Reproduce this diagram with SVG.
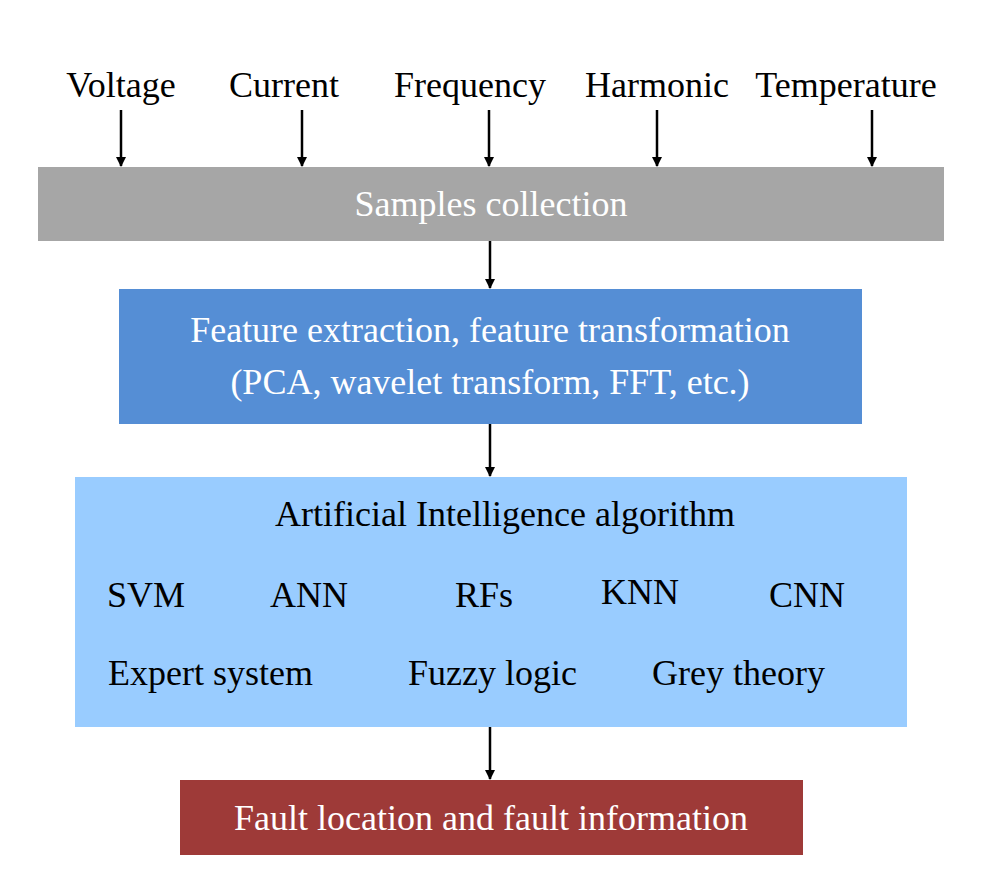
<svg xmlns="http://www.w3.org/2000/svg" width="999" height="880" viewBox="0 0 999 880">
<defs>
<marker id="ah" markerWidth="10" markerHeight="10" refX="9" refY="5" orient="auto" markerUnits="userSpaceOnUse" viewBox="0 0 10 10"><path d="M0,0 L10,5 L0,10 Z" fill="#000"/></marker>
<style>
text{font-family:"Liberation Serif","Times New Roman",serif;font-size:36px;fill:#000}
.w{fill:#fff}
.c{text-anchor:middle}
.a{stroke:#000;stroke-width:2.5;fill:none;marker-end:url(#ah)}
</style>
</defs>
<rect width="999" height="880" fill="#fff"/>
<g id="inputs">
<text x="121" y="97" class="c">Voltage</text>
<text x="284" y="97" class="c">Current</text>
<text x="470" y="97" class="c">Frequency</text>
<text x="657" y="97" class="c">Harmonic</text>
<text x="846" y="97" class="c">Temperature</text>
</g>
<g id="samples"><rect x="38" y="167" width="906" height="74" fill="#a6a6a6"/><text x="491" y="216" class="c w">Samples collection</text></g>
<g id="features"><rect x="119" y="289" width="743" height="135" fill="#558ed5"/>
<text x="490" y="342" class="c w">Feature extraction, feature transformation</text>
<text x="490" y="394" class="c w">(PCA, wavelet transform, FFT, etc.)</text></g>
<g id="ai"><rect x="75" y="477" width="832" height="250" fill="#99ccff"/>
<text x="505" y="526" class="c">Artificial Intelligence algorithm</text>
<text x="107" y="607">SVM</text><text x="270" y="607">ANN</text><text x="455" y="607">RFs</text><text x="601" y="604">KNN</text><text x="769" y="607">CNN</text>
<text x="108" y="685">Expert system</text><text x="408" y="685">Fuzzy logic</text><text x="652" y="685">Grey theory</text></g>
<g id="fault"><rect x="180" y="780" width="623" height="75" fill="#9e3a38"/><text x="491" y="830" class="c w">Fault location and fault information</text></g>
<g id="connectors">
<line x1="121" y1="110" x2="121" y2="166" class="a"/>
<line x1="302" y1="110" x2="302" y2="166" class="a"/>
<line x1="489" y1="110" x2="489" y2="166" class="a"/>
<line x1="657" y1="110" x2="657" y2="166" class="a"/>
<line x1="872" y1="110" x2="872" y2="166" class="a"/>
<line x1="490" y1="241" x2="490" y2="288" class="a"/>
<line x1="490" y1="424" x2="490" y2="476" class="a"/>
<line x1="490" y1="727" x2="490" y2="779" class="a"/>
</g>
</svg>
